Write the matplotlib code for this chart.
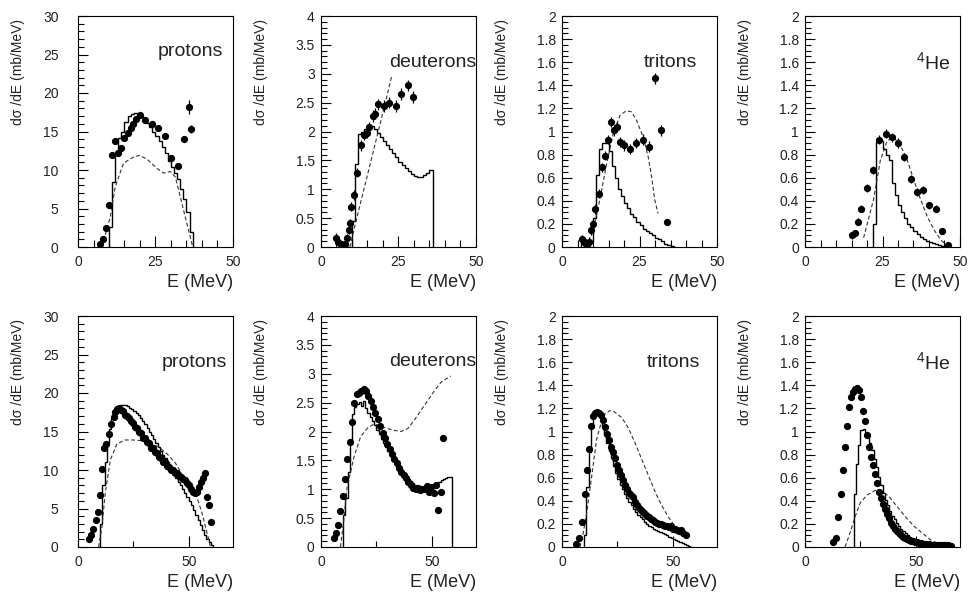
import numpy as np
import matplotlib
matplotlib.use("Agg")
import matplotlib.pyplot as plt
from matplotlib.ticker import MultipleLocator, FixedLocator, FuncFormatter

plt.rcParams['font.family'] = ['Liberation Sans', 'DejaVu Sans']
plt.rcParams['mathtext.fontset'] = 'custom'
plt.rcParams['mathtext.rm'] = 'Liberation Sans'
plt.rcParams['mathtext.default'] = 'regular'

# ---- top row (E up to 50 MeV) ----
# protons
pt_E = [7.0, 8.1, 8.9, 9.9, 11.0, 12.0, 12.8, 13.9, 14.9, 16.0, 17.1, 17.8, 18.8, 19.9,
        21.7, 23.9, 25.8, 28.0, 30.0, 32.2, 34.1, 35.9, 36.6]
pt_Y = [0.35, 1.0, 2.5, 5.5, 12.0, 13.8, 12.2, 12.8, 14.2, 14.8, 15.4, 16.0, 16.6, 17.2,
        16.5, 16.0, 15.5, 14.4, 11.5, 10.5, 14.0, 18.2, 15.3]
pt_err = [0.3, 0.3, 0.3, 0.3, 0.3, 0.3, 0.3, 0.3, 0.3, 0.3, 0.3, 0.3, 0.3, 0.3,
          0.3, 0.3, 0.3, 0.3, 0.4, 0.4, 0.4, 0.9, 0.5]
pt_hist_lo = 10
pt_hist = [2.6, 8.5, 12.0, 14.2, 15.0, 16.2, 17.0, 17.3, 17.4, 17.3, 17.0, 16.6, 16.1, 15.6,
           15.0, 14.4, 13.8, 13.0, 12.2, 11.2, 10.4, 9.6, 8.8, 7.5, 6.2, 4.5, 2.0]
pt_dE = [7.7, 10.4, 12.0, 14.7, 18.0, 19.9, 22.3, 25.5, 27.6, 29.8, 31.4, 33.0, 34.6, 36.2, 37.0]
pt_dY = [0.0, 3.9, 7.8, 10.9, 11.7, 11.9, 11.4, 10.2, 9.6, 9.8, 9.1, 6.5, 3.9, 1.3, 0.0]

# deuterons
dt_E = [4.9, 5.5, 6.3, 7.0, 7.8, 8.5, 9.0, 9.5, 9.8, 10.6, 11.7, 12.8, 13.9, 14.8, 15.6,
        16.7, 17.5, 18.5, 20.2, 22.0, 24.2, 25.8, 28.0, 29.8]
dt_Y = [0.15, 0.08, 0.05, 0.03, 0.06, 0.15, 0.29, 0.41, 0.70, 0.90, 1.29, 1.76, 1.94, 1.98, 2.07,
        2.27, 2.31, 2.47, 2.44, 2.50, 2.44, 2.65, 2.80, 2.60]
dt_err = [0.09, 0.07, 0.06, 0.06, 0.06, 0.07, 0.07, 0.08, 0.08, 0.08, 0.08, 0.09, 0.09, 0.09, 0.09,
          0.1, 0.1, 0.1, 0.1, 0.1, 0.1, 0.1, 0.1, 0.1]
dt_hist_lo = 10
dt_hist = [0.45, 1.43, 1.95, 2.0, 2.04, 2.08, 2.1, 2.05, 1.98, 1.9, 1.83, 1.76, 1.69, 1.62,
           1.55, 1.48, 1.42, 1.37, 1.31, 1.27, 1.23, 1.21, 1.22, 1.25, 1.28, 1.33]
dt_dE = [9.3, 12.0, 15.0, 18.0, 21.0, 22.8]
dt_dY = [0.0, 0.6, 1.25, 1.9, 2.55, 2.96]

# tritons
tt_E = [6.3, 7.0, 7.6, 8.2, 8.8, 9.3, 9.9, 10.8, 11.9, 12.9, 13.8, 14.9, 15.8, 16.7, 17.6,
        18.8, 20.1, 21.9, 24.0, 26.0, 28.0, 29.9, 32.0, 34.0]
tt_Y = [0.066, 0.046, 0.026, 0.017, 0.046, 0.147, 0.20, 0.33, 0.46, 0.69, 0.79, 0.93, 1.08, 1.01,
        1.04, 0.91, 0.88, 0.85, 0.90, 0.93, 0.87, 1.46, 1.01, 0.22]
tt_err = [0.04, 0.04, 0.04, 0.04, 0.04, 0.04, 0.04, 0.04, 0.04, 0.04, 0.04, 0.04, 0.045, 0.045,
          0.045, 0.045, 0.045, 0.045, 0.045, 0.045, 0.045, 0.05, 0.045, 0.02]
tt_hist_lo = 6
tt_hist = [0.04, 0.03, 0.03, 0.05, 0.25, 0.62, 0.85, 0.9, 0.9, 0.83, 0.7, 0.6, 0.5, 0.44, 0.38,
           0.34, 0.29, 0.26, 0.22, 0.19, 0.16, 0.14, 0.12, 0.1, 0.08, 0.07, 0.05, 0.03, 0.02, 0.01]
tt_dE = [7.9, 10.1, 12.2, 14.4, 16.5, 18.7, 20.8, 22.4, 24.0, 26.2, 27.8, 28.9, 29.9, 31.0]
tt_dY = [0.0, 0.15, 0.41, 0.72, 0.98, 1.14, 1.18, 1.17, 1.10, 0.95, 0.78, 0.61, 0.41, 0.29]

# 4He
ht_E = [15.1, 16.1, 17.0, 18.0, 20.0, 22.0, 24.0, 26.0, 28.1, 30.0, 32.0, 34.1, 36.1, 38.1,
        40.1, 42.1, 44.1, 46.0]
ht_Y = [0.10, 0.12, 0.22, 0.33, 0.51, 0.67, 0.93, 0.98, 0.95, 0.90, 0.78, 0.59, 0.48, 0.49,
        0.36, 0.33, 0.14, 0.02]
ht_err = [0.03, 0.03, 0.03, 0.03, 0.035, 0.035, 0.04, 0.04, 0.04, 0.04, 0.035, 0.035, 0.035, 0.035,
          0.03, 0.03, 0.025, 0.01]
ht_hist_lo = 22
ht_hist = [0.2, 0.91, 0.92, 0.85, 0.8, 0.75, 0.55, 0.45, 0.36, 0.3, 0.25, 0.2, 0.17, 0.14,
           0.11, 0.09, 0.07, 0.055, 0.045, 0.035, 0.025, 0.018, 0.01, 0.005]
ht_dE = [18.9, 22.1, 24.3, 26.5, 28.6, 30.8, 33.0, 35.1, 37.3, 39.5, 41.6, 43.8, 46.0]
ht_dY = [0.08, 0.41, 0.75, 0.92, 0.95, 0.88, 0.75, 0.58, 0.41, 0.26, 0.15, 0.06, 0.01]

# ---- bottom row (E up to 70 MeV) ----
# protons
pb_E = [4.8, 5.9, 6.9, 8.1, 9.0, 9.8, 10.8, 11.7, 12.8, 14.0, 15.1, 16.1, 16.9, 17.6, 18.5,
        19.3, 20.2, 21.1, 22.0, 22.9, 23.8, 24.7, 25.6, 26.5, 27.4, 28.3, 29.2, 30.1, 31.0,
        31.9, 32.8, 33.7, 34.6, 35.5, 36.4, 37.3, 38.2, 39.1, 40.0, 40.9, 41.9, 42.8, 43.7,
        44.6, 45.5, 46.4, 47.3, 48.2, 49.1, 50.0, 50.9, 51.8, 52.7, 53.6, 54.5, 55.4, 56.3,
        57.2, 58.3, 59.3, 60.2]
pb_Y = [1.0, 1.6, 2.4, 3.5, 4.6, 6.7, 10.1, 12.8, 13.4, 14.7, 16.0, 16.9, 17.5, 17.9, 18.0,
        17.8, 17.7, 17.2, 17.0, 16.8, 16.3, 16.1, 15.6, 15.4, 14.9, 14.8, 14.2, 14.1, 13.6,
        13.5, 12.9, 12.8, 12.3, 12.2, 11.7, 11.6, 11.1, 11.0, 10.5, 10.4, 10.0, 10.0, 9.6,
        9.6, 9.2, 9.1, 8.8, 8.7, 8.3, 8.1, 7.5, 7.1, 7.0, 7.2, 7.8, 8.4, 9.0, 9.6, 6.5, 5.5, 3.2]
pb_hist_lo = 10
pb_hist = [3.0, 8.0, 11.0, 13.5, 15.3, 16.7, 17.5, 18.0, 18.3, 18.4, 18.5, 18.4, 18.3, 18.1,
           17.9, 17.7, 17.4, 17.1, 16.8, 16.4, 16.0, 15.5, 15.0, 14.5, 14.0, 13.5, 13.0, 12.5,
           12.0, 11.5, 11.0, 10.5, 10.0, 9.5, 9.0, 8.5, 8.0, 7.5, 7.0, 6.5, 6.0, 5.4, 4.8, 4.2,
           3.5, 2.8, 2.2, 1.6, 1.0, 0.6, 0.2]
pb_dE = [9.3, 10.8, 12.3, 14.6, 17.6, 21.4, 25.1, 28.9, 32.7, 36.4, 40.2, 44.0, 47.7, 51.5,
         53.7, 56.0, 58.3, 59.8]
pb_dY = [0.0, 2.6, 7.0, 11.3, 13.4, 13.9, 13.9, 13.8, 13.5, 13.0, 12.1, 10.9, 9.1, 7.2,
         6.5, 4.4, 1.8, 0.0]

# deuterons
db_E = [5.8, 6.8, 7.9, 8.8, 9.9, 10.9, 11.8, 12.9, 14.0, 15.0, 16.1, 17.2, 18.2, 19.3, 20.3,
        21.4, 22.5, 23.5, 24.6, 25.7, 26.7, 27.8, 28.9, 29.9, 31.0, 32.0, 33.1, 34.2, 35.2,
        36.3, 37.4, 38.4, 39.5, 40.6, 41.6, 42.7, 43.7, 44.7, 45.7, 46.7, 47.7, 48.6, 49.8,
        51.0, 51.8, 52.8, 54.1, 55.1]
db_Y = [0.15, 0.24, 0.38, 0.62, 0.88, 1.17, 1.53, 1.82, 2.17, 2.50, 2.65, 2.67, 2.70, 2.73, 2.70,
        2.62, 2.53, 2.43, 2.32, 2.21, 2.09, 1.98, 1.88, 1.78, 1.69, 1.61, 1.52, 1.45, 1.37,
        1.30, 1.24, 1.19, 1.13, 1.08, 1.03, 1.00, 1.02, 0.99, 1.00, 1.01, 1.05, 0.96, 1.04,
        0.93, 1.07, 0.64, 0.96, 1.88]
db_hist_lo = 10
db_hist = [0.55, 0.85, 1.3, 1.85, 2.3, 2.43, 2.48, 2.51, 2.45, 2.52, 2.4, 2.32, 2.25, 2.18,
           2.11, 2.03, 1.95, 1.87, 1.8, 1.73, 1.66, 1.6, 1.54, 1.48, 1.42, 1.37, 1.32, 1.27,
           1.22, 1.18, 1.14, 1.11, 1.08, 1.05, 1.03, 1.02, 1.01, 1.0, 1.01, 1.02, 1.04, 1.07,
           1.1, 1.13, 1.16, 1.18, 1.2, 1.21, 1.22]
db_dE = [8.8, 10.3, 11.8, 14.9, 17.9, 21.0, 24.0, 27.0, 30.1, 33.1, 36.1, 39.2, 42.2, 45.2,
         48.3, 51.3, 54.4, 58.6]
db_dY = [0.0, 0.47, 1.04, 1.56, 1.91, 2.06, 2.13, 2.09, 2.05, 2.02, 2.0, 2.05, 2.2, 2.37,
         2.54, 2.71, 2.86, 2.96]

# tritons
tb_E = [6.3, 7.7, 9.0, 10.4, 11.4, 12.3, 13.2, 14.1, 15.0, 15.9, 16.8, 17.7, 18.6, 19.5, 20.4,
        21.3, 22.2, 23.1, 24.0, 24.9, 25.8, 26.7, 27.6, 28.5, 29.4, 30.3, 31.2, 32.1, 33.0,
        34.0, 34.9, 35.8, 36.7, 37.6, 38.5, 39.4, 40.3, 41.2, 42.1, 43.0, 43.9, 44.8, 45.7,
        46.6, 47.5, 48.4, 49.3, 50.2, 51.1, 52.0, 52.9, 53.8, 54.7, 55.9]
tb_Y = [0.023, 0.08, 0.22, 0.46, 0.67, 0.85, 1.05, 1.13, 1.16, 1.17, 1.16, 1.14, 1.10, 1.04, 0.98,
        0.93, 0.87, 0.82, 0.77, 0.71, 0.67, 0.62, 0.58, 0.54, 0.50, 0.47, 0.45, 0.43, 0.39,
        0.36, 0.34, 0.32, 0.30, 0.29, 0.27, 0.26, 0.24, 0.23, 0.22, 0.21, 0.20, 0.20, 0.19,
        0.18, 0.18, 0.17, 0.18, 0.16, 0.16, 0.15, 0.14, 0.15, 0.12, 0.10]
tb_hist_lo = 10
tb_hist = [0.1, 0.52, 0.82, 1.04, 1.13, 1.16, 1.16, 1.12, 1.05, 0.97, 0.9, 0.83, 0.77, 0.7,
           0.64, 0.59, 0.54, 0.5, 0.46, 0.42, 0.39, 0.36, 0.33, 0.3, 0.28, 0.26, 0.24, 0.22,
           0.2, 0.185, 0.17, 0.16, 0.15, 0.14, 0.13, 0.12, 0.11, 0.1, 0.09, 0.08, 0.07, 0.06,
           0.05, 0.04, 0.032, 0.024, 0.016, 0.009, 0.003]
tb_dE = [8.1, 9.6, 11.1, 13.4, 15.6, 18.6, 21.6, 23.0, 27.0, 30.0, 33.0, 36.0, 39.0, 42.0,
         45.0, 48.0, 51.0, 54.0, 57.0]
tb_dY = [0.0, 0.12, 0.29, 0.61, 0.93, 1.14, 1.18, 1.18, 1.12, 1.03, 0.9, 0.76, 0.62, 0.48,
         0.36, 0.26, 0.18, 0.12, 0.07]

# 4He
hb_E = [12.8, 13.8, 14.7, 16.1, 17.0, 17.9, 18.8, 19.9, 20.8, 21.7, 22.5, 23.4, 24.3, 25.2,
        26.1, 27.0, 27.9, 28.9, 29.8, 30.7, 31.6, 32.5, 33.4, 34.3, 35.2, 36.1, 37.1, 38.0,
        38.9, 39.8, 40.7, 41.6, 42.5, 43.4, 44.3, 45.2, 46.2, 47.1, 48.0, 48.9, 49.8, 50.7,
        51.6, 52.5, 53.4, 54.4, 55.3, 56.2, 57.1, 58.0, 58.9, 59.8, 60.7, 61.7, 62.6, 63.5,
        64.4, 65.3, 65.9]
hb_Y = [0.04, 0.08, 0.26, 0.46, 0.67, 0.87, 1.05, 1.21, 1.30, 1.34, 1.37, 1.38, 1.36, 1.30,
        1.18, 1.09, 0.97, 0.87, 0.78, 0.71, 0.63, 0.55, 0.48, 0.42, 0.37, 0.33, 0.29, 0.25,
        0.21, 0.18, 0.16, 0.14, 0.12, 0.10, 0.09, 0.08, 0.07, 0.06, 0.055, 0.05, 0.045, 0.04,
        0.035, 0.032, 0.03, 0.026, 0.023, 0.023, 0.02, 0.02, 0.017, 0.017, 0.017, 0.02, 0.017,
        0.017, 0.015, 0.012, 0.012]
hb_hist_lo = 22
hb_hist = [0.46, 0.72, 0.88, 1.01, 1.02, 1.0, 0.96, 0.9, 0.84, 0.76, 0.69, 0.61, 0.54, 0.47,
           0.41, 0.36, 0.31, 0.27, 0.24, 0.21, 0.18, 0.16, 0.14, 0.12, 0.1, 0.09, 0.075, 0.065,
           0.055, 0.048, 0.04, 0.036, 0.032, 0.028, 0.025, 0.022, 0.019, 0.016, 0.014, 0.012,
           0.01, 0.009, 0.008, 0.006]
hb_dE = [18.1, 20.3, 22.6, 24.9, 28.0, 31.7, 34.8, 37.8, 41.6, 45.4, 49.2, 53.0, 56.8, 61.3, 65.9]
hb_dY = [0.0, 0.12, 0.26, 0.38, 0.45, 0.49, 0.48, 0.44, 0.35, 0.26, 0.18, 0.12, 0.06, 0.02, 0.01]

names = ['protons', 'deuterons', 'tritons', r'$^{4}$He']
ymax = [30, 4, 2, 2]
ymaj = [5, 0.5, 0.2, 0.2]
ymin = [1, 0.1, 0.05, 0.05]

top = [(pt_E, pt_Y, pt_err, pt_hist_lo, pt_hist, pt_dE, pt_dY),
       (dt_E, dt_Y, dt_err, dt_hist_lo, dt_hist, dt_dE, dt_dY),
       (tt_E, tt_Y, tt_err, tt_hist_lo, tt_hist, tt_dE, tt_dY),
       (ht_E, ht_Y, ht_err, ht_hist_lo, ht_hist, ht_dE, ht_dY)]
bottom = [(pb_E, pb_Y, None, pb_hist_lo, pb_hist, pb_dE, pb_dY),
          (db_E, db_Y, None, db_hist_lo, db_hist, db_dE, db_dY),
          (tb_E, tb_Y, None, tb_hist_lo, tb_hist, tb_dE, tb_dY),
          (hb_E, hb_Y, None, hb_hist_lo, hb_hist, hb_dE, hb_dY)]

name_pos_top = [(0.935, 0.845), (1.0, 0.80), (0.87, 0.80), (0.935, 0.80)]
name_pos_bot = [(0.96, 0.80), (1.0, 0.805), (0.89, 0.80), (0.94, 0.80)]

fig = plt.figure(figsize=(9.7, 5.97), dpi=100)
lefts = [78, 321, 562, 805]
W, H = 970.0, 597.0
fmt = FuncFormatter(lambda v, p: '%g' % round(v, 3))
txt = '#222222'


def panel(ax, data, i, xmax, toprow, name_pos):
    E, Y, err, lo, hist, dE, dY = data
    edges = np.arange(lo, lo + len(hist) + 1)
    ax.stairs(hist, edges, baseline=0, color='k', lw=1.0)
    ax.plot(dE, dY, color='#333333', lw=0.8, dashes=(3.5, 2.2))
    if err is not None:
        ax.errorbar(E, Y, yerr=err, fmt='o', ms=4.2, color='k', ecolor='k',
                    elinewidth=0.9, capsize=0)
    else:
        ax.plot(E, Y, 'o', ms=4.2, color='k')
    ax.set_xlim(0, xmax)
    ax.set_ylim(0, ymax[i])
    ax.yaxis.set_major_locator(MultipleLocator(ymaj[i]))
    ax.yaxis.set_minor_locator(MultipleLocator(ymin[i]))
    ax.yaxis.set_major_formatter(fmt)
    if toprow:
        ax.xaxis.set_major_locator(MultipleLocator(25))
        ax.xaxis.set_minor_locator(MultipleLocator(5))
    else:
        ax.xaxis.set_major_locator(FixedLocator([0, 50]))
        ax.xaxis.set_minor_locator(FixedLocator([25]))
    ax.xaxis.set_major_formatter(fmt)
    ypad = 14 if i == 0 else 4.5
    ax.tick_params(axis='both', which='both', direction='in', top=False, right=False,
                   labelsize=10, labelcolor=txt, width=0.8)
    ax.tick_params(axis='y', which='major', length=7, pad=ypad)
    ax.tick_params(axis='y', which='minor', length=4)
    ax.tick_params(axis='x', which='major', length=8, pad=6)
    ax.tick_params(axis='x', which='minor', length=5 if toprow else 4)
    for s in ax.spines.values():
        s.set_linewidth(0.8)
    ax.set_ylabel('dσ /dE (mb/MeV)', fontsize=10, color=txt, loc='top')
    ax.yaxis.set_label_coords(-0.34, 0.985)
    ax.set_xlabel('E (MeV)', fontsize=13, color=txt, loc='right')
    ax.xaxis.set_label_coords(1.0, -0.115)
    ax.text(name_pos[0], name_pos[1], names[i], transform=ax.transAxes, ha='right',
            va='center', fontsize=14, color=txt)


for i in range(4):
    ax = fig.add_axes([lefts[i] / W, 1 - 247 / H, 155 / W, 231 / H])
    panel(ax, top[i], i, 50, True, name_pos_top[i])
    ax = fig.add_axes([lefts[i] / W, 1 - 547 / H, 155 / W, 231 / H])
    panel(ax, bottom[i], i, 70, False, name_pos_bot[i])

fig.savefig('out.png', dpi=100)
